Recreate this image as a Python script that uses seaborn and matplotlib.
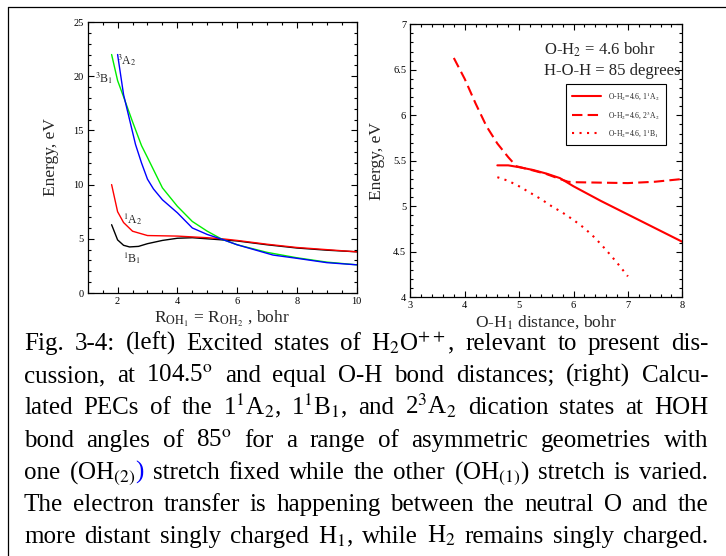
import numpy as np
import pandas as pd
import matplotlib
matplotlib.use("Agg")
import matplotlib.pyplot as plt
import seaborn as sns
from matplotlib.lines import Line2D
from matplotlib.ticker import MultipleLocator, FormatStrFormatter

# ---------------- data: left panel (symmetric stretch, 104.5 deg) ----------------
r_3b1 = [1.8, 2.0, 2.2, 2.5, 2.8, 3.0, 3.5, 4.0, 4.5, 5.0, 5.5, 6.0, 7.0, 8.0, 9.0, 10.0]
e_3b1 = [22.0, 19.6, 18.1, 15.8, 13.6, 12.5, 9.7, 8.0, 6.6, 5.7, 4.95, 4.45, 3.75, 3.25, 2.85, 2.6]
r_3a2 = [2.0, 2.2, 2.4, 2.6, 2.8, 3.0, 3.2, 3.5, 4.0, 4.5, 5.0, 5.5, 6.0, 7.2, 8.0, 9.0, 10.0]
e_3a2 = [22.0, 18.3, 16.0, 13.7, 12.0, 10.5, 9.6, 8.6, 7.4, 6.0, 5.4, 4.95, 4.45, 3.5, 3.2, 2.8, 2.6]
r_1a2 = [1.8, 2.0, 2.2, 2.5, 3.0, 4.0, 5.0, 5.5, 6.0, 7.0, 8.0, 9.0, 10.0]
e_1a2 = [10.0, 7.5, 6.5, 5.7, 5.3, 5.25, 5.1, 5.0, 4.85, 4.5, 4.2, 4.0, 3.8]
r_1b1 = [1.8, 2.0, 2.2, 2.4, 2.7, 3.0, 3.5, 4.0, 4.5, 5.0, 5.5, 6.0, 7.0, 8.0, 9.0, 10.0]
e_1b1 = [6.3, 4.9, 4.4, 4.25, 4.3, 4.55, 4.85, 5.05, 5.1, 5.0, 4.9, 4.8, 4.45, 4.15, 3.95, 3.8]

# ---------------- data: right panel (O-H2 = 4.6 bohr, 85 deg) ----------------
oh1_a2s = [4.6, 4.8, 5.0, 5.25, 5.5, 5.75, 6.0, 6.5, 7.0, 7.5, 8.0]
e_a2s = [5.45, 5.45, 5.43, 5.40, 5.36, 5.31, 5.22, 5.06, 4.91, 4.76, 4.61]
oh1_a2t = [3.8, 4.0, 4.2, 4.4, 4.6, 4.8, 4.95, 5.25, 5.5, 5.75, 5.9, 6.0, 6.5, 7.0, 7.5, 8.0]
e_a2t = [6.63, 6.40, 6.13, 5.88, 5.69, 5.54, 5.44, 5.395, 5.355, 5.30, 5.27, 5.265, 5.26, 5.255, 5.27, 5.30]
oh1_b1 = [4.6, 4.8, 5.0, 5.2, 5.4, 5.6, 5.8, 6.0, 6.2, 6.4, 6.6, 6.8, 7.0]
e_b1 = [5.32, 5.28, 5.22, 5.15, 5.08, 5.0, 4.93, 4.85, 4.76, 4.65, 4.52, 4.38, 4.23]

legend_labels = [r"O-H$_2$=4.6, 1$^1$A$_2$", r"O-H$_2$=4.6, 2$^3$A$_2$", r"O-H$_2$=4.6, 1$^1$B$_1$"]

caption = [
    r"Fig. 3-4: (left) Excited states of H$_2$O$^{++}$, relevant to present dis-",
    r"cussion, at 104.5$^{\mathrm{o}}$ and equal O-H bond distances; (right) Calcu-",
    r"lated PECs of the 1$^1$A$_2$, 1$^1$B$_1$, and 2$^3$A$_2$ dication states at HOH",
    r"bond angles of 85$^{\mathrm{o}}$ for a range of asymmetric geometries with",
    r"one (OH$_{(2)}$|) stretch fixed while the other (OH$_{(1)}$) stretch is varied.",
    r"The electron transfer is happening between the neutral O and the",
    r"more distant singly charged H$_1$, while H$_2$ remains singly charged.",
]

# ---------------- style ----------------
sns.set_theme(style="ticks")
plt.rcParams["font.family"] = ["Liberation Serif", "DejaVu Serif"]
plt.rcParams["mathtext.fontset"] = "stix"
plt.rcParams["axes.linewidth"] = 0.9
plt.rcParams["axes.edgecolor"] = "black"

W, H = 726, 556
fig = plt.figure(figsize=(W / 100, H / 100), dpi=100)
fig.patch.set_facecolor("white")


def px_axes(x0, y0, x1, y1):
    return fig.add_axes([x0 / W, 1 - y1 / H, (x1 - x0) / W, (y1 - y0) / H])


axL = px_axes(87.7, 22, 356.7, 293)
axR = px_axes(410.3, 24.3, 682.3, 297.3)

for ax in (axL, axR):
    ax.set_facecolor("white")
    ax.tick_params(which="both", direction="in", top=True, right=True,
                   colors="black", labelsize=7.5, width=0.8, pad=3)
    ax.tick_params(which="major", length=4.5)
    ax.tick_params(which="minor", length=2.5)
    for s in ax.spines.values():
        s.set_visible(True)
        s.set_color("black")

# left panel
for xs, ys, c in [(r_1b1, e_1b1, "black"), (r_1a2, e_1a2, "#ff0000"),
                  (r_3b1, e_3b1, "#00ee00"), (r_3a2, e_3a2, "#0000ff")]:
    sns.lineplot(x=xs, y=ys, ax=axL, color=c, lw=1.0, estimator=None, sort=False)
axL.set_xlim(1, 10)
axL.set_ylim(0, 25)
axL.xaxis.set_major_locator(MultipleLocator(2))
axL.xaxis.set_minor_locator(MultipleLocator(0.5))
axL.yaxis.set_major_locator(MultipleLocator(5))
axL.yaxis.set_minor_locator(MultipleLocator(1))
axL.set_xticks([2, 4, 6, 8, 10])
axL.set_xlabel(r"R$_{\mathrm{OH}_1}$ = R$_{\mathrm{OH}_2}$ , bohr", fontsize=12.5, labelpad=2)
axL.set_ylabel("Energy, eV", fontsize=12.5, labelpad=10)
for txt, x, y in [(r"$^3$A$_2$", 2.32, 21.5), (r"$^3$B$_1$", 1.56, 19.8),
                  (r"$^1$A$_2$", 2.5, 6.8), (r"$^1$B$_1$", 2.5, 3.2)]:
    axL.text(x, y, txt, fontsize=8.5, ha="center", va="center")

# right panel
sns.lineplot(x=oh1_a2s, y=e_a2s, ax=axR, color="#ff0000", lw=1.5, estimator=None,
             sort=False, label=legend_labels[0])
sns.lineplot(x=oh1_a2t, y=e_a2t, ax=axR, color="#ff0000", lw=1.5, estimator=None,
             sort=False, label=legend_labels[1])
axR.lines[-1].set_dashes([5, 2.5])
sns.lineplot(x=oh1_b1, y=e_b1, ax=axR, color="#ff0000", lw=1.5, estimator=None,
             sort=False, label=legend_labels[2])
axR.lines[-1].set_dashes([1, 2.6])
axR.set_xlim(3, 8)
axR.set_ylim(4, 7)
axR.xaxis.set_major_locator(MultipleLocator(1))
axR.xaxis.set_minor_locator(MultipleLocator(0.2))
axR.yaxis.set_major_locator(MultipleLocator(0.5))
axR.yaxis.set_minor_locator(MultipleLocator(0.1))
axR.yaxis.set_major_formatter(FormatStrFormatter("%g"))
axR.set_xlabel(r"O-H$_1$ distance, bohr", fontsize=12.5, labelpad=2)
axR.set_ylabel("Energy, eV", fontsize=12.5, labelpad=6)
axR.text(0.4915, 0.906, r"O-H$_2$ = 4.6 bohr", transform=axR.transAxes,
         fontsize=12, ha="left", va="center")
axR.text(0.4915, 0.829, "H-O-H = 85 degrees", transform=axR.transAxes,
         fontsize=12, ha="left", va="center")
leg = axR.legend(loc="upper left", bbox_to_anchor=(0.572, 0.781), fontsize=5.5,
                 frameon=True, fancybox=False, edgecolor="black", framealpha=1,
                 handlelength=3.8, handletextpad=0.9, labelspacing=0.9,
                 borderpad=0.8, borderaxespad=0)
leg.get_frame().set_linewidth(0.8)

# outer frame (top and left edges)
fig.add_artist(Line2D([8 / W, 1], [1 - 7 / H, 1 - 7 / H], transform=fig.transFigure,
                      color="black", lw=0.9))
fig.add_artist(Line2D([8 / W, 8 / W], [1 - 7 / H, 0], transform=fig.transFigure,
                      color="black", lw=0.9))

# ---------------- justified caption ----------------
renderer = fig.canvas.get_renderer()
x_left, x_right = 24.0, 708.0
baselines = [350, 382, 414.5, 447, 479, 511, 543]


def measure(s, fs):
    t = fig.text(0, 0, s, fontsize=fs)
    w = t.get_window_extent(renderer).width
    t.remove()
    return w


def tokens(line):
    out = []
    for w in line.split(" "):
        segs = w.split("|")
        word = [(segs[0], "black")]
        for extra in segs[1:]:
            word.append((extra, "#0000ff"))
        out.append(word)
    return out


fs = 18.0
space = measure("a a", fs) - 2 * measure("a", fs)
widest = 0
for line in caption:
    toks = tokens(line)
    tw = sum(measure(s, fs) for wd in toks for s, _ in wd)
    widest = max(widest, tw + space * 0.8 * (len(toks) - 1))
if widest > (x_right - x_left):
    fs = fs * (x_right - x_left) / widest

for line, yb in zip(caption, baselines):
    toks = tokens(line)
    widths = [[measure(s, fs) for s, _ in wd] for wd in toks]
    total = sum(sum(w) for w in widths)
    gap = (x_right - x_left - total) / max(len(toks) - 1, 1)
    x = x_left
    for wd, ws in zip(toks, widths):
        for (s, c), w in zip(wd, ws):
            fig.text(x / W, 1 - yb / H, s, fontsize=fs, color=c, ha="left", va="baseline")
            x += w
        x += gap

fig.savefig("out.png", dpi=100, facecolor="white")
